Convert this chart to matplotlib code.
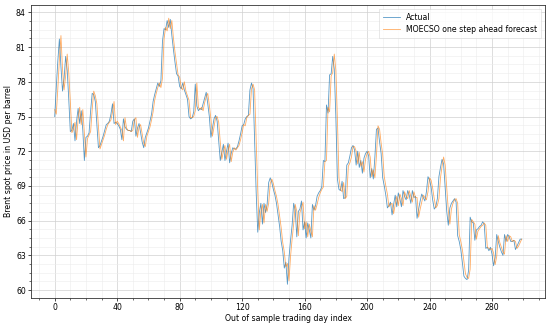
import matplotlib
matplotlib.use("Agg")
import matplotlib.pyplot as plt
from matplotlib.ticker import MultipleLocator, AutoMinorLocator

actual = [
    75.0, 77.5, 79.8, 81.7, 79.3, 77.2, 78.3, 80.2, 79.0, 76.5,
    73.7, 73.8, 74.4, 72.9, 74.6, 75.7, 74.4, 75.5, 73.8, 71.2,
    73.2, 73.3, 73.6, 75.5, 77.0, 76.9, 76.3, 74.3, 72.3, 72.5,
    72.9, 73.3, 73.8, 74.3, 74.4, 74.6, 75.2, 76.1, 74.4, 74.5,
    74.4, 74.2, 73.9, 73.0, 74.8, 74.1, 73.9, 73.8, 73.8, 73.7,
    74.6, 74.8, 73.3, 74.0, 74.4, 73.6, 72.8, 72.3, 73.2, 73.6,
    74.0, 74.6, 75.2, 76.3, 76.9, 77.4, 77.9, 77.6, 78.1, 81.5,
    82.6, 82.5, 83.3, 82.7, 83.4, 82.0, 80.8, 79.7, 78.7, 78.5,
    77.6, 77.4, 77.9, 77.3, 76.9, 76.5, 75.0, 74.8, 74.9, 75.4,
    77.8, 75.9, 75.5, 75.7, 75.6, 76.1, 76.6, 77.1, 76.1, 75.0,
    73.2, 74.0, 74.8, 75.1, 74.6, 72.9, 71.2, 71.9, 72.6, 71.2,
    72.0, 72.7, 71.0, 71.8, 72.3, 72.2, 72.2, 72.4, 72.9, 73.5,
    74.2, 74.3, 74.8, 75.0, 75.1, 77.3, 77.9, 77.4, 73.0, 68.4,
    65.0, 66.7, 67.5, 65.7, 67.5, 66.7, 67.4, 69.3, 69.7, 69.3,
    68.7, 68.2, 67.5, 66.5, 65.5, 64.2, 63.4, 61.9, 62.4, 60.5,
    62.8, 64.3, 65.6, 67.5, 66.9, 64.6, 66.8, 67.0, 67.7, 65.2,
    65.9, 64.5, 65.8, 65.2, 64.5, 67.4, 66.9, 67.3, 68.1, 68.4,
    68.6, 68.9, 71.2, 71.1, 76.0, 75.3, 78.6, 78.7, 80.2, 79.1,
    75.0, 69.6, 68.7, 68.6, 69.4, 67.9, 68.0, 70.8, 71.0, 71.6,
    72.3, 72.5, 72.1, 70.8, 72.0, 70.6, 71.2, 70.1, 71.4, 71.8,
    72.0, 71.6, 69.7, 70.5, 69.6, 71.5, 73.9, 74.0, 72.8, 71.8,
    69.7, 69.0, 68.2, 67.1, 67.3, 67.6, 66.5, 67.4, 68.2, 67.2,
    68.4, 67.9, 67.2, 68.6, 68.1, 67.8, 68.6, 68.2, 67.5, 68.6,
    68.0, 68.1, 66.2, 67.0, 67.7, 68.3, 68.0, 67.7, 68.5, 69.8,
    69.5, 68.9, 67.8, 67.0, 67.2, 67.9, 69.8, 70.6, 71.3, 70.9,
    68.9, 66.8, 65.6, 67.1, 67.5, 67.7, 67.9, 67.6, 64.7, 64.2,
    63.5, 62.4, 61.2, 61.0, 60.9, 61.7, 66.3, 65.9, 65.8, 64.3,
    65.2, 65.3, 65.5, 65.6, 65.9, 65.7, 63.6, 63.7, 63.4, 63.7,
    63.1, 62.1, 62.8, 64.8, 64.2, 63.7, 63.3, 63.0, 64.8, 64.2,
    64.8, 64.6, 64.2, 64.2, 64.3, 63.5, 63.8, 64.1, 64.4, 64.4,
]

forecast = [
    75.6, 75.2, 77.4, 79.9, 82.0, 79.1, 77.3, 78.5, 80.4, 78.8,
    76.3, 73.6, 73.9, 74.5, 73.0, 74.8, 75.8, 74.3, 75.6, 73.5,
    71.5, 73.1, 73.4, 73.7, 75.6, 77.2, 76.8, 76.1, 74.1, 72.2,
    72.6, 73.0, 73.4, 73.9, 74.3, 74.5, 74.7, 75.4, 76.3, 74.3,
    74.6, 74.4, 74.1, 73.8, 72.9, 74.9, 74.0, 73.8, 73.8, 73.7,
    73.8, 74.7, 74.9, 73.2, 74.1, 74.3, 73.5, 72.7, 72.4, 73.3,
    73.7, 74.1, 74.7, 75.4, 76.4, 77.0, 77.5, 77.9, 77.5, 78.3,
    81.7, 82.7, 82.4, 83.5, 82.6, 83.3, 81.8, 80.6, 79.6, 78.6,
    78.4, 77.5, 77.3, 78.0, 77.2, 76.8, 76.4, 74.9, 74.9, 75.0,
    75.5, 77.9, 75.8, 75.6, 75.8, 75.5, 76.2, 76.7, 77.0, 76.0,
    74.8, 73.3, 74.1, 74.9, 75.0, 74.5, 72.8, 71.3, 72.0, 72.5,
    71.3, 72.1, 72.6, 71.1, 71.9, 72.3, 72.1, 72.3, 72.5, 73.0,
    73.6, 74.3, 74.2, 74.9, 75.1, 75.2, 77.4, 77.8, 77.3, 72.8,
    68.6, 65.2, 66.8, 67.4, 65.8, 67.4, 66.8, 67.5, 69.2, 69.6,
    69.2, 68.6, 68.1, 67.4, 66.4, 65.4, 64.1, 63.3, 62.0, 62.3,
    60.8, 62.9, 64.4, 65.7, 67.4, 66.8, 64.7, 66.7, 67.1, 67.6,
    65.3, 65.9, 64.6, 65.7, 65.1, 64.6, 67.3, 66.9, 67.4, 68.0,
    68.4, 68.7, 68.9, 71.1, 71.2, 75.8, 75.4, 78.5, 78.8, 80.4,
    79.0, 74.8, 69.7, 68.7, 68.5, 69.3, 67.9, 68.1, 70.7, 71.0,
    71.5, 72.4, 72.4, 72.0, 70.9, 71.9, 70.7, 71.1, 70.2, 71.3,
    71.8, 72.0, 71.5, 69.8, 70.4, 69.7, 71.6, 74.2, 73.9, 72.7,
    71.7, 69.8, 69.0, 68.3, 67.2, 67.4, 67.5, 66.6, 67.4, 68.1,
    67.3, 68.3, 67.9, 67.3, 68.5, 68.1, 67.9, 68.6, 68.1, 67.6,
    68.5, 68.0, 68.0, 66.3, 67.0, 67.6, 68.2, 68.0, 67.8, 68.5,
    69.7, 69.5, 68.8, 67.9, 67.1, 67.3, 67.9, 69.7, 70.7, 71.5,
    70.8, 68.8, 66.9, 65.7, 67.0, 67.5, 67.8, 67.9, 67.5, 64.8,
    64.2, 63.5, 62.5, 61.4, 61.1, 61.0, 61.8, 66.1, 65.9, 65.7,
    64.4, 65.1, 65.3, 65.5, 65.6, 65.8, 65.6, 63.7, 63.6, 63.5,
    63.6, 63.2, 62.2, 62.9, 64.7, 64.1, 63.7, 63.3, 63.1, 64.7,
    64.2, 64.7, 64.6, 64.2, 64.3, 64.2, 63.6, 63.8, 64.1, 64.4,
]

day_index = list(range(len(actual)))
series_labels = ["Actual", "MOECSO one step ahead forecast"]
x_label = "Out of sample trading day index"
y_label = "Brent spot price in USD per barrel"

FS = 5.6
fig = plt.figure(figsize=(5.5, 3.27), dpi=100)
ax = fig.add_axes([0.057, 0.09, 0.934, 0.895])

ax.plot(day_index, actual, color="#1f77b4", alpha=0.75, lw=0.6, label=series_labels[0])
ax.plot(day_index, forecast, color="#ff7f0e", alpha=0.65, lw=0.6, label=series_labels[1])

ax.xaxis.set_major_locator(MultipleLocator(40))
ax.yaxis.set_major_locator(MultipleLocator(3))
ax.xaxis.set_minor_locator(AutoMinorLocator(4))
ax.yaxis.set_minor_locator(AutoMinorLocator(4))
ax.grid(True, which="major", color="#d0d0d0", lw=0.5)
ax.grid(True, which="minor", color="#ececec", lw=0.4)
ax.set_axisbelow(True)

ax.tick_params(axis="both", which="major", labelsize=FS, length=2.5, width=0.5, pad=1.5)
ax.tick_params(axis="both", which="minor", length=1.5, width=0.4)
for s in ax.spines.values():
    s.set_linewidth(0.6)
    s.set_color("#333333")

ax.set_xlabel(x_label, fontsize=FS, labelpad=1)
ax.set_ylabel(y_label, fontsize=FS, labelpad=2)

leg = ax.legend(loc="upper right", fontsize=FS, frameon=True, handlelength=2.2,
                borderpad=0.5, labelspacing=0.4, fancybox=False)
leg.get_frame().set_linewidth(0.4)
leg.get_frame().set_edgecolor("#cccccc")

fig.savefig("out.png", dpi=100)
